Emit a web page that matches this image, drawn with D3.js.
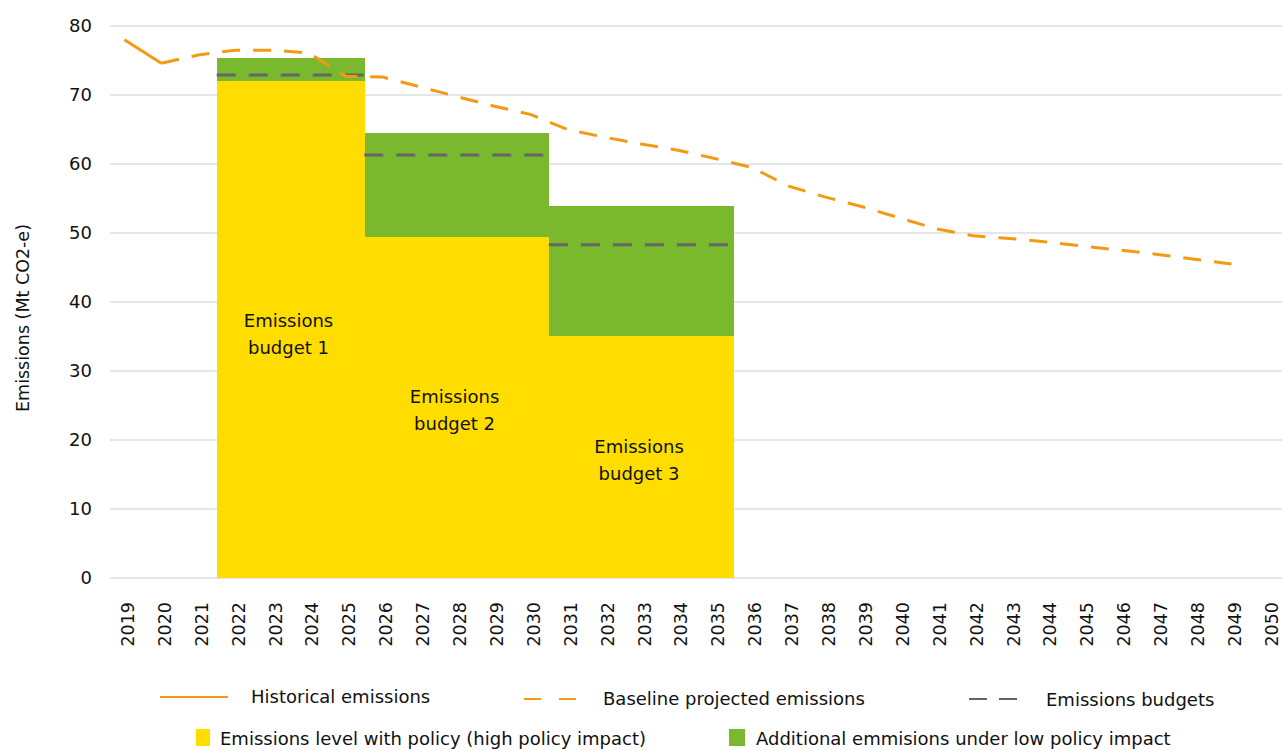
<!DOCTYPE html>
<html>
<head>
<meta charset="utf-8">
<script src="https://cdn.jsdelivr.net/npm/d3@7"></script>
<style>
  body { margin: 0; background: #fff; }
  svg { font-family: "DejaVu Sans", sans-serif; }
</style>
</head>
<body>
<div id="chart"></div>
<script>
// categories
var years = [2019, 2020, 2021, 2022, 2023, 2024, 2025, 2026, 2027, 2028, 2029, 2030,
  2031, 2032, 2033, 2034, 2035, 2036, 2037, 2038, 2039, 2040, 2041, 2042, 2043,
  2044, 2045, 2046, 2047, 2048, 2049, 2050];
var yTicks = [0, 10, 20, 30, 40, 50, 60, 70, 80];

// historical emissions
var histYears = [2019, 2020];
var histValues = [78.0, 74.6];

// baseline projection
var baseYears = [2020, 2021, 2022, 2023, 2024, 2025, 2026, 2027, 2028, 2029, 2030,
  2031, 2032, 2033, 2034, 2035, 2036, 2037, 2038, 2039, 2040, 2041, 2042, 2043,
  2044, 2045, 2046, 2047, 2048, 2049];
var baseValues = [74.6, 75.8, 76.5, 76.5, 76.1, 72.7, 72.6, 71.2, 69.8, 68.4, 67.2,
  65.0, 63.9, 62.9, 62.0, 60.8, 59.5, 56.8, 55.2, 53.8, 52.2, 50.6, 49.6, 49.2,
  48.7, 48.1, 47.5, 46.9, 46.2, 45.5];

// emissions budget periods
var budgetNames = ["Emissions budget 1", "Emissions budget 2", "Emissions budget 3"];
var budgetStart = [2022, 2026, 2031];
var budgetEnd = [2025, 2030, 2035];
var highPolicy = [72.0, 49.4, 35.1];   // yellow block top
var lowPolicy = [75.4, 64.5, 53.9];    // green block top
var budgetLevel = [72.9, 61.3, 48.3];  // grey dashed line

var W = 1282, H = 751;
var colYellow = "#FFDD00", colGreen = "#7AB82E", colOrange = "#F39A12", colGrey = "#666666";
var fs = 18;

var svg = d3.select("#chart").append("svg")
  .attr("width", W).attr("height", H);

var x = d3.scaleBand().domain(years).range([106, 1286.8]).padding(0);
var y = d3.scaleLinear().domain([0, 80]).range([578, 26]);
var bw = x.bandwidth();

// gridlines
svg.append("g").selectAll("line").data(yTicks).join("line")
  .attr("x1", 110).attr("x2", 1282)
  .attr("y1", d => y(d)).attr("y2", d => y(d))
  .attr("stroke", "#DDDDE3").attr("stroke-width", 1.5);

// y tick labels
svg.append("g").selectAll("text").data(yTicks).join("text")
  .attr("x", 92).attr("y", d => y(d))
  .attr("dy", "0.35em")
  .attr("text-anchor", "end")
  .attr("font-size", fs)
  .attr("fill", "#111")
  .text(d => d);

// y axis title
svg.append("text")
  .attr("transform", "translate(29,318) rotate(-90)")
  .attr("text-anchor", "middle")
  .attr("font-size", 17.5)
  .attr("fill", "#111")
  .text("Emissions (Mt CO2-e)");

// x tick labels
svg.append("g").selectAll("text").data(years).join("text")
  .attr("transform", d => "translate(" + (x(d) + bw / 2 + 9.5) + ",602) rotate(-90)")
  .attr("text-anchor", "end")
  .attr("font-size", 17.5)
  .attr("fill", "#111")
  .text(d => d);

var idx = [0, 1, 2];

// green blocks (low policy impact)
svg.append("g").attr("shape-rendering", "crispEdges")
  .selectAll("rect").data(idx).join("rect")
  .attr("x", i => x(budgetStart[i]))
  .attr("width", i => x(budgetEnd[i]) + bw - x(budgetStart[i]) + 0.5)
  .attr("y", i => y(lowPolicy[i]))
  .attr("height", i => y(0) - y(lowPolicy[i]))
  .attr("fill", colGreen);

// yellow blocks (high policy impact)
svg.append("g").attr("shape-rendering", "crispEdges")
  .selectAll("rect").data(idx).join("rect")
  .attr("x", i => x(budgetStart[i]))
  .attr("width", i => x(budgetEnd[i]) + bw - x(budgetStart[i]) + 0.5)
  .attr("y", i => y(highPolicy[i]))
  .attr("height", i => y(0) - y(highPolicy[i]))
  .attr("fill", colYellow);

// budget labels
var lblY = [327, 403, 453];
svg.append("g").selectAll("text").data(idx).join("text")
  .attr("text-anchor", "middle")
  .attr("font-size", fs)
  .attr("fill", "#111")
  .each(function (i) {
    var t = d3.select(this);
    var cx = (x(budgetStart[i]) + x(budgetEnd[i]) + bw) / 2 - 2;
    var words = budgetNames[i].split(" ");
    t.append("tspan").attr("x", cx).attr("y", lblY[i]).text(words[0]);
    t.append("tspan").attr("x", cx).attr("dy", 27).text(words[1] + " " + words[2]);
  });

// budget dashed lines
svg.append("g").selectAll("line").data(idx).join("line")
  .attr("x1", i => x(budgetStart[i]))
  .attr("x2", i => x(budgetEnd[i]) + bw)
  .attr("y1", i => y(budgetLevel[i]))
  .attr("y2", i => y(budgetLevel[i]))
  .attr("stroke", colGrey)
  .attr("stroke-width", 3)
  .attr("stroke-dasharray", "19,13");

var line = d3.line()
  .x(d => x(d[0]) + bw / 2)
  .y(d => y(d[1]));

// baseline projected emissions
svg.append("path")
  .datum(baseYears.map((yr, i) => [yr, baseValues[i]]))
  .attr("d", line)
  .attr("fill", "none")
  .attr("stroke", colOrange)
  .attr("stroke-width", 3)
  .attr("stroke-dasharray", "18,13");

// historical emissions
svg.append("path")
  .datum(histYears.map((yr, i) => [yr, histValues[i]]))
  .attr("d", line)
  .attr("fill", "none")
  .attr("stroke", colOrange)
  .attr("stroke-width", 3);

// legend
var leg = svg.append("g").attr("font-size", fs).attr("fill", "#111");
leg.append("line").attr("x1", 160).attr("x2", 228).attr("y1", 697).attr("y2", 697)
  .attr("stroke", colOrange).attr("stroke-width", 2);
leg.append("text").attr("x", 251).attr("y", 697).attr("dy", "0.35em").text("Historical emissions");
leg.append("line").attr("x1", 524).attr("x2", 577).attr("y1", 699).attr("y2", 699)
  .attr("stroke", colOrange).attr("stroke-width", 2).attr("stroke-dasharray", "17,18");
leg.append("text").attr("x", 603).attr("y", 699).attr("dy", "0.35em").text("Baseline projected emissions");
leg.append("line").attr("x1", 969).attr("x2", 1017).attr("y1", 699).attr("y2", 699)
  .attr("stroke", colGrey).attr("stroke-width", 2).attr("stroke-dasharray", "18,12");
leg.append("text").attr("x", 1046).attr("y", 700).attr("dy", "0.35em").text("Emissions budgets");

leg.append("rect").attr("x", 196).attr("y", 729).attr("width", 14).attr("height", 17).attr("fill", colYellow);
leg.append("text").attr("x", 220).attr("y", 739).attr("dy", "0.35em").text("Emissions level with policy (high policy impact)");
leg.append("rect").attr("x", 729).attr("y", 729).attr("width", 16).attr("height", 17).attr("fill", colGreen);
leg.append("text").attr("x", 756).attr("y", 739).attr("dy", "0.35em").text("Additional emmisions under low policy impact");
</script>
</body>
</html>
